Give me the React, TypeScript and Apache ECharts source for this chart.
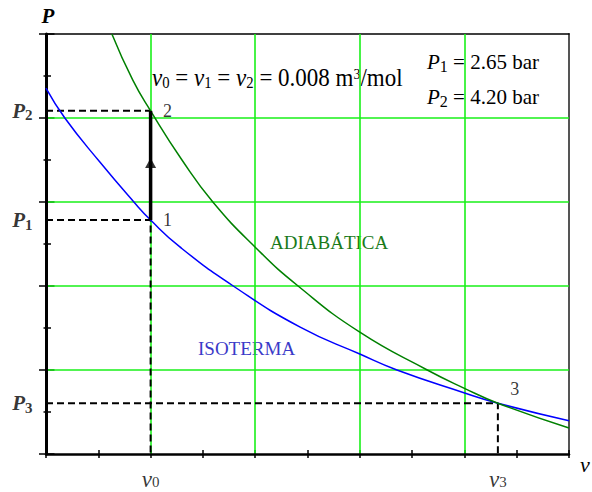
import React, { useEffect, useRef } from "react";
import * as echarts from "echarts";

// Schematic P–v diagram (axis units are arbitrary: 0..10 on both axes)
const isothermV = [0, 0.36, 1.03, 1.68, 2.0, 2.56, 3.58, 4.86, 6.0, 6.71, 7.99, 8.64, 10.0];
const isothermP = [8.71, 8.0, 6.95, 6.0, 5.57, 4.93, 4.0, 3.02, 2.38, 2.0, 1.46, 1.21, 0.79];
const adiabatV = [1.26, 1.66, 2.0, 2.6, 3.19, 4.02, 4.82, 6.0, 7.29, 7.99, 8.64, 10.0];
const adiabatP = [10.0, 8.9, 8.17, 7.0, 6.0, 4.9, 4.0, 2.9, 2.0, 1.57, 1.21, 0.62];

const stateNames = ["1", "2", "3"];
const stateV = [2.0, 2.0, 8.64];
const stateP = [5.57, 8.17, 1.21];

const pLevelSubs = ["1", "2", "3"];
const pLevels = [5.57, 8.17, 1.21];
const vLevelSubs = ["0", "3"];
const vLevels = [2.0, 8.64];

const axisMin = 0;
const axisMax = 10;
const majorStep = 2;
const arrowHeadP = 6.93;

const SERIF = "Liberation Serif";
const GRID_GREEN = "#19f019";

const tok = (size: number, italic: boolean, bold: boolean, lineHeight: number, va: string) => ({
  fontFamily: SERIF,
  fontSize: size,
  fontStyle: italic ? "italic" : "normal",
  fontWeight: bold ? "bold" : "normal",
  lineHeight,
  verticalAlign: va,
  color: "#000",
  fill: "#000",
});

export default function App() {
  const ref = useRef<HTMLDivElement>(null);

  useEffect(() => {
    if (!ref.current) return;
    const chart = echarts.init(ref.current, undefined, { renderer: "svg" });

    const [v0, , v3] = stateV;
    const [P1, P2, P3] = stateP;

    const dashed = (data: number[][]) => ({
      type: "line",
      data,
      symbol: "none",
      clip: false,
      silent: true,
      z: 3,
      lineStyle: { color: "#000", width: 2, type: [7, 4] },
    });

    const baseX = {
      type: "value",
      min: axisMin,
      max: axisMax,
      interval: majorStep,
      axisLabel: { show: false },
    };
    const baseY = { ...baseX };

    const option: any = {
      animation: false,
      backgroundColor: "#fff",
      grid: { left: 46, right: 23, top: 34, bottom: 38, containLabel: false },
      xAxis: [
        {
          ...baseX,
          position: "bottom",
          axisLine: { show: true, onZero: false, lineStyle: { color: "#000", width: 2.5 } },
          axisTick: { show: true, length: 4, lineStyle: { color: "#000", width: 1.5 } },
          minorTick: { show: true, splitNumber: 2, length: 4, lineStyle: { color: "#000", width: 1.5 } },
          splitLine: { show: true, showMinLine: false, showMaxLine: false, lineStyle: { color: GRID_GREEN, width: 1.6 } },
          z: 2,
        },
        {
          ...baseX,
          position: "bottom",
          axisLine: { show: false },
          axisTick: { show: true, inside: true, length: 4, lineStyle: { color: "#000", width: 1.5 } },
          minorTick: { show: true, splitNumber: 2, length: 4, lineStyle: { color: "#000", width: 1.5 } },
          splitLine: { show: false },
        },
        {
          ...baseX,
          position: "top",
          axisLine: { show: true, onZero: false, lineStyle: { color: "#000", width: 1.5 } },
          axisTick: { show: false },
          splitLine: { show: false },
        },
      ],
      yAxis: [
        {
          ...baseY,
          position: "left",
          axisLine: { show: true, onZero: false, lineStyle: { color: "#000", width: 3 } },
          axisTick: { show: true, length: 7, lineStyle: { color: "#000", width: 1.5 } },
          minorTick: { show: true, splitNumber: 2, length: 2.5, lineStyle: { color: "#000", width: 1.5 } },
          splitLine: { show: true, showMinLine: false, showMaxLine: false, lineStyle: { color: GRID_GREEN, width: 1.6 } },
          z: 2,
        },
        {
          ...baseY,
          position: "left",
          axisLine: { show: false },
          axisTick: { show: true, inside: true, length: 8.5, lineStyle: { color: "#000", width: 1.5 } },
          minorTick: { show: true, splitNumber: 2, length: 5, lineStyle: { color: "#000", width: 1.5 } },
          splitLine: { show: false },
        },
        {
          ...baseY,
          position: "right",
          axisLine: { show: true, onZero: false, lineStyle: { color: "#555", width: 2 } },
          axisTick: { show: false },
          splitLine: { show: false },
        },
      ],
      series: [
        {
          type: "line",
          name: "isoterma",
          data: isothermV.map((v, i) => [v, isothermP[i]]),
          symbol: "none",
          smooth: 0.5,
          z: 4,
          lineStyle: { color: "#0000ff", width: 1.5 },
        },
        {
          type: "line",
          name: "adiabatica",
          data: adiabatV.map((v, i) => [v, adiabatP[i]]),
          symbol: "none",
          smooth: 0.5,
          z: 4,
          lineStyle: { color: "#008000", width: 1.5 },
        },
        dashed([[axisMin, P2], [v0, P2]]),
        dashed([[axisMin, P1], [v0, P1], [v0, axisMin]]),
        dashed([[axisMin, P3], [v3, P3], [v3, axisMin]]),
        {
          type: "line",
          data: [[v0, P1], [v0, P2]],
          symbol: "none",
          clip: false,
          z: 5,
          lineStyle: { color: "#000", width: 3.5 },
        },
        {
          type: "scatter",
          data: [[v0, arrowHeadP]],
          symbol: "triangle",
          symbolSize: [11, 10],
          clip: false,
          z: 6,
          itemStyle: { color: "#000" },
        },
        {
          type: "scatter",
          data: pLevels.map((p) => [axisMin, p]),
          symbolSize: 1,
          clip: false,
          z: 6,
          itemStyle: { color: "rgba(0,0,0,0)" },
          label: {
            show: true,
            position: "left",
            distance: 13,
            formatter: (p: any) => `{m|P}{s|${pLevelSubs[p.dataIndex]}}`,
            rich: {
              m: tok(21, true, true, 24, "middle"),
              s: tok(15, false, true, 10, "bottom"),
            },
          },
        },
        {
          type: "scatter",
          data: vLevels.map((v) => [v, axisMin]),
          symbolSize: 1,
          clip: false,
          z: 6,
          itemStyle: { color: "rgba(0,0,0,0)" },
          label: {
            show: true,
            position: "bottom",
            distance: 15,
            formatter: (p: any) => `{m|v}{s|${vLevelSubs[p.dataIndex]}}`,
            rich: {
              m: tok(23, true, false, 20, "middle"),
              s: tok(15, false, false, 8, "bottom"),
            },
          },
        },
        {
          type: "scatter",
          data: stateV.map((v, i) => [v, stateP[i]]),
          symbolSize: 1,
          clip: false,
          z: 6,
          itemStyle: { color: "rgba(0,0,0,0)" },
          label: {
            show: true,
            position: "right",
            distance: 12,
            fontFamily: SERIF,
            fontStyle: "normal",
            fontWeight: "normal",
            fontSize: 18,
            color: "#000",
            formatter: (p: any) => stateNames[p.dataIndex],
          },
          labelLayout: (params: any) =>
            params.dataIndex === 2 ? { dy: -14 } : {},
        },
      ],
      graphic: [
        {
          type: "text",
          x: 48,
          y: 16,
          style: {
            text: "P",
            fontFamily: SERIF,
            fontSize: 21,
            fontStyle: "italic",
            fontWeight: "bold",
            fill: "#000",
            align: "center",
            verticalAlign: "middle",
          },
        },
        {
          type: "text",
          x: 580,
          y: 464,
          style: {
            text: "v",
            fontFamily: SERIF,
            fontSize: 22,
            fontStyle: "italic",
            fontWeight: "normal",
            fill: "#000",
            align: "left",
            verticalAlign: "middle",
          },
        },
        {
          type: "text",
          x: 152,
          y: 78,
          scaleX: 0.92,
          style: {
            text: "{i|v}{s|0}{n| = }{i|v}{s|1}{n| = }{i|v}{s|2}{n| = 0.008 m}{p|3}{n|/mol}",
            align: "left",
            verticalAlign: "middle",
            rich: {
              i: tok(25, true, false, 24, "middle"),
              n: tok(25, false, false, 24, "middle"),
              s: tok(16, false, false, 11, "bottom"),
              p: tok(15, false, false, 9, "top"),
            },
          },
        },
        {
          type: "text",
          x: 427,
          y: 62,
          style: {
            text: "{i|P}{s|1}{n| = 2.65 bar}",
            align: "left",
            verticalAlign: "middle",
            rich: {
              i: tok(21, true, false, 24, "middle"),
              n: tok(21, false, false, 24, "middle"),
              s: tok(16, false, false, 10, "bottom"),
            },
          },
        },
        {
          type: "text",
          x: 427,
          y: 97,
          style: {
            text: "{i|P}{s|2}{n| = 4.20 bar}",
            align: "left",
            verticalAlign: "middle",
            rich: {
              i: tok(21, true, false, 24, "middle"),
              n: tok(21, false, false, 24, "middle"),
              s: tok(16, false, false, 10, "bottom"),
            },
          },
        },
        {
          type: "text",
          x: 270,
          y: 242,
          style: {
            text: "ADIABÁTICA",
            fontFamily: SERIF,
            fontSize: 19,
            fontStyle: "normal",
            fontWeight: "normal",
            fill: "#1a7a1a",
            align: "left",
            verticalAlign: "middle",
          },
        },
        {
          type: "text",
          x: 198,
          y: 348,
          style: {
            text: "ISOTERMA",
            fontFamily: SERIF,
            fontSize: 19,
            fontStyle: "normal",
            fontWeight: "normal",
            fill: "#3a3ac8",
            align: "left",
            verticalAlign: "middle",
          },
        },
      ],
    };

    chart.setOption(option);
    return () => chart.dispose();
  }, []);

  return (
    <div
      ref={ref}
      style={{ position: "fixed", left: 0, top: 0, width: 592, height: 492, background: "#fff" }}
    />
  );
}
